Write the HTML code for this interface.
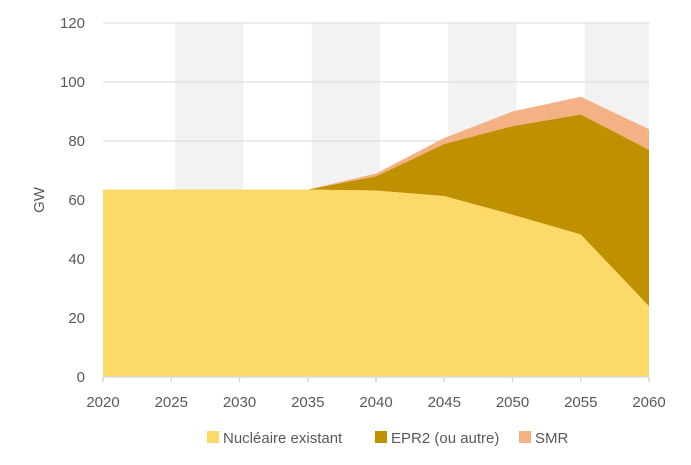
<!DOCTYPE html>
<html><head><meta charset="utf-8"><style>
body{margin:0;background:#fff;width:691px;height:460px;overflow:hidden;font-family:"Liberation Sans",sans-serif}
svg text{font-family:"Liberation Sans",sans-serif;fill:#595959}
</style></head><body>
<svg id="chart" width="691" height="460" xmlns="http://www.w3.org/2000/svg">
<g id="bands"></g>
<g id="grid"></g>
<g id="areas"></g>
<g id="axes"></g>
<text x="44" y="200" font-size="15" text-anchor="middle" transform="rotate(-90 44 200)">GW</text>
<g font-size="15">
<g><rect x="207" y="431" width="12" height="12" fill="#FDD969"/><text x="223" y="443">Nucléaire existant</text></g>
<g><rect x="375" y="431" width="12" height="12" fill="#BF9000"/><text x="391" y="443">EPR2 (ou autre)</text></g>
<g><rect x="519" y="431" width="12" height="12" fill="#F4B183"/><text x="535" y="443">SMR</text></g>
</g>
</svg>
<script>
const years=[2020,2025,2030,2035,2040,2045,2050,2055,2060];
const existant=[63.5,63.5,63.5,63.5,63.2,61.3,55,48.3,24];
const epr2=[0,0,0,0,4.8,17.7,30,40.7,53];
const smr=[0,0,0,0,1,2,5,6,7];
const yTicks=[0,20,40,60,80,100,120];
const NS="http://www.w3.org/2000/svg";
const x0=103,x1=649,y0=377,y1=23;
const xs=v=>x0+(v-2020)/40*(x1-x0);
const ys=v=>y0-v/120*(y0-y1);
function mk(tag,attrs,parent){const e=document.createElementNS(NS,tag);for(const k in attrs)e.setAttribute(k,attrs[k]);parent.appendChild(e);return e;}
const bands=document.getElementById('bands'),grid=document.getElementById('grid'),areas=document.getElementById('areas'),axes=document.getElementById('axes');
for(let i=1;i<years.length;i+=2){
 const bx=xs(years[i])+4, bw=Math.min(xs(years[i+1])+4,x1)-bx;
 const r=mk('rect',{x:bx,y:y1,width:bw,height:y0-y1,fill:'#F2F2F2'},bands);
 
 
}
yTicks.forEach(t=>{
 if(t>0){const l=mk('line',{x1:x0,x2:x1,y1:ys(t),y2:ys(t),stroke:'#D9D9D9','stroke-width':1},grid);
 
 }
 const tx=mk('text',{x:x0-18,y:ys(t)+5,'font-size':15,'text-anchor':'end'},axes);tx.textContent=t;
 
 
});
const s1=existant, s2=existant.map((v,i)=>v+epr2[i]), s3=s2.map((v,i)=>v+smr[i]);
function area(top,bot,fill,name){
 let d='M'+years.map((y,i)=>xs(y)+','+ys(top[i])).join('L');
 for(let i=years.length-1;i>=0;i--)d+='L'+xs(years[i])+','+ys(bot[i]);
 const p=mk('path',{d:d+'Z',fill:fill},areas);
 
 
}
const zero=years.map(()=>0);
area(s3,s2,'#F4B183','area-smr');
area(s2,s1,'#BF9000','area-epr2');
area(s1,zero,'#FDD969','area-nucleaire-existant');
const ax=mk('line',{x1:x0,x2:x1,y1:y0,y2:y0,stroke:'#D9D9D9','stroke-width':1.5},axes);


years.forEach(y=>{
 mk('line',{x1:xs(y),x2:xs(y),y1:y0,y2:y0+5,stroke:'#D9D9D9','stroke-width':1.5},axes);
 const t=mk('text',{x:xs(y),y:y0+30,'font-size':15,'text-anchor':'middle'},axes);t.textContent=y;
 
 
});
</script>
</body></html>
